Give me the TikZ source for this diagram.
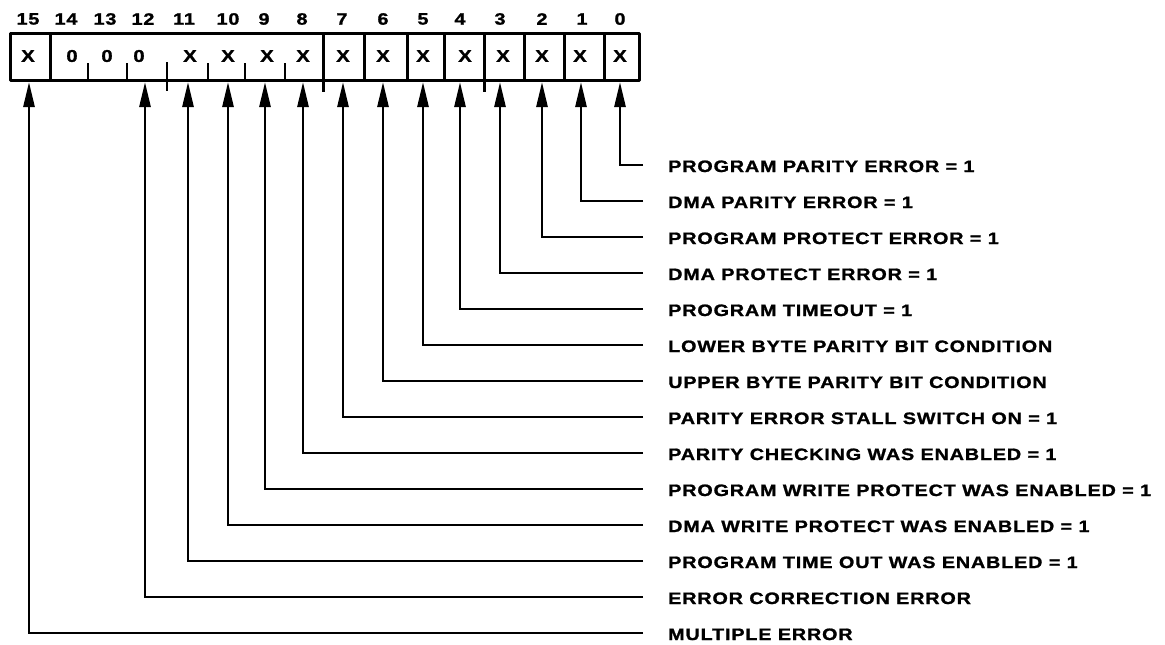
\documentclass[tikz,border=0pt]{standalone}
\usepackage{fontspec}
\usetikzlibrary{arrows.meta}
\newfontfamily\lblfont[FakeStretch=1.2,LetterSpace=5,BoldFeatures={FakeBold=1.2}]{Liberation Sans}
\begin{document}
\begin{tikzpicture}[x=1pt,y=-1pt,
  lbl/.style={font=\lblfont\bfseries\fontsize{16.5}{18}\selectfont, inner sep=0pt},
  bitno/.style={font=\lblfont\bfseries\fontsize{16.5}{18}\selectfont, inner sep=0pt},
  val/.style={font=\lblfont\bfseries\fontsize{17}{18}\selectfont, inner sep=0pt},
  frame/.style={line width=3pt, line join=round},
  conn/.style={line width=2.7pt, -{Triangle[length=25pt,width=11pt]}}]
\fill[white] (0,0) rectangle (1165,645);
\useasboundingbox (0,0) rectangle (1165,645);

% register outline and cell dividers
\draw[frame] (10,33) rectangle (639,80);
\foreach \x in {50,323,364,407,444,484,524,564,604}
  \draw[frame] (\x,33) -- (\x,80);
\draw[frame] (323,80) -- (323,92);
\draw[frame] (484,80) -- (484,92);
\draw[line width=2.6pt] (167,62) -- (167,91);
\foreach \x in {88,127,208,245,285}
  \draw[line width=2.6pt] (\x,63) -- (\x,80);

% bit numbers
\foreach \b/\x in {15/28,14/66,13/105,12/143,11/184,10/228,9/264,8/302,
                   7/342,6/383,5/423,4/460,3/500,2/542,1/582,0/620}
  \node[bitno] (n\b) at (\x,19) {\b};

% cell contents
\foreach \b/\x/\v in {15/28/X,14/72/0,13/107/0,12/139/0,11/190/X,10/228/X,9/267/X,8/303/X,
                      7/343/X,6/383/X,5/423/X,4/465/X,3/503/X,2/542/X,1/580/X,0/620/X}
  \node[val] (v\b) at (\x,56) {\v};

% arrow targets on the lower edge of the register
\foreach \b/\x in {15/29,12/145,11/188,10/228,9/265,8/303,7/343,6/383,
                   5/423,4/460,3/500,2/542,1/581,0/620}
  \coordinate (b\b) at (\x,82);

% field descriptions and their leaders
\foreach \k/\b/\t in {0/0/{PROGRAM PARITY ERROR = 1},
                      1/1/{DMA PARITY ERROR = 1},
                      2/2/{PROGRAM PROTECT ERROR = 1},
                      3/3/{DMA PROTECT ERROR = 1},
                      4/4/{PROGRAM TIMEOUT = 1},
                      5/5/{LOWER BYTE PARITY BIT CONDITION},
                      6/6/{UPPER BYTE PARITY BIT CONDITION},
                      7/7/{PARITY ERROR STALL SWITCH ON = 1},
                      8/8/{PARITY CHECKING WAS ENABLED = 1},
                      9/9/{PROGRAM WRITE PROTECT WAS ENABLED = 1},
                      10/10/{DMA WRITE PROTECT WAS ENABLED = 1},
                      11/11/{PROGRAM TIME OUT WAS ENABLED = 1},
                      12/12/{ERROR CORRECTION ERROR},
                      13/15/{MULTIPLE ERROR}} {
  \node[lbl, anchor=base west] (l\k) at (668,{165+36*\k+7}) {\t};
  \coordinate (e\k) at (643,{165+36*\k});
  \draw[conn] (e\k) -| (b\b);
}
\end{tikzpicture}
\end{document}
